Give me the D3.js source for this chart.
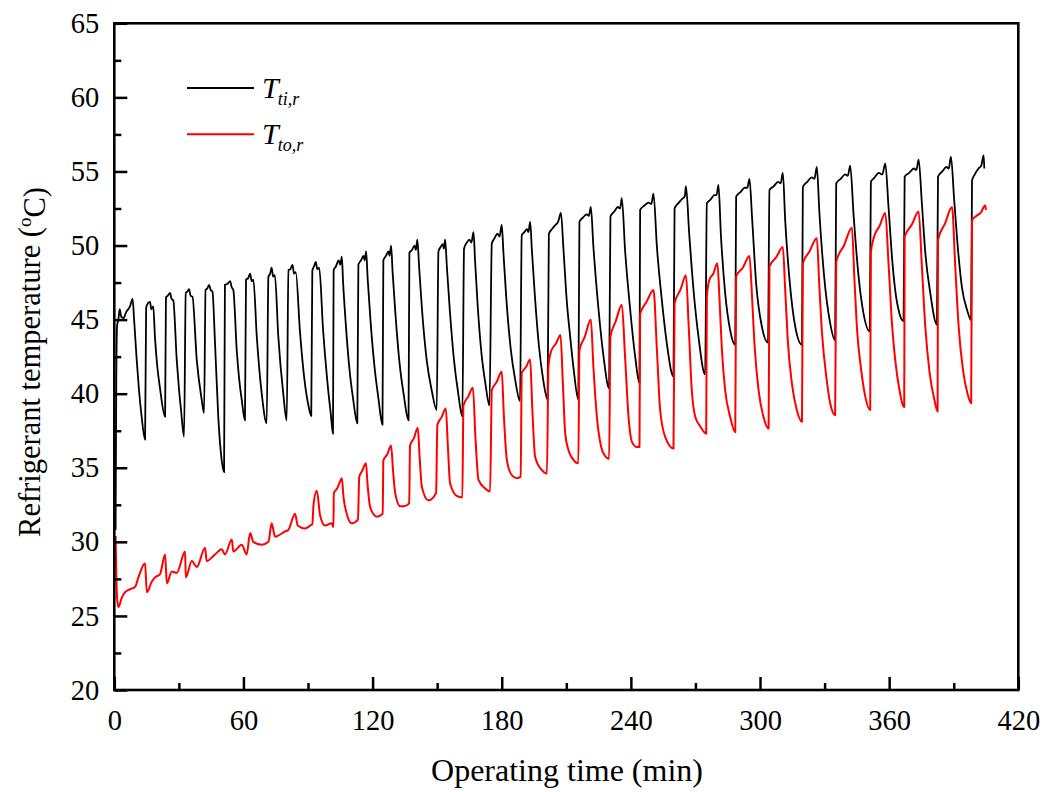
<!DOCTYPE html>
<html>
<head>
<meta charset="utf-8">
<script src="https://cdn.jsdelivr.net/npm/d3@7"></script>
<style>
  body { margin: 0; background: #fff; }
  svg { display: block; }
  text { font-family: "Liberation Serif", "Times New Roman", serif; fill: #000; }
</style>
</head>
<body>
<div id="chart"></div>
<script>
// tick values
var xTicks = [0, 60, 120, 180, 240, 300, 360, 420];
var xMinor = [30, 90, 150, 210, 270, 330, 390];
var yTicks = [20, 25, 30, 35, 40, 45, 50, 55, 60, 65];
var yMinor = [22.5, 27.5, 32.5, 37.5, 42.5, 47.5, 52.5, 57.5, 62.5];

// legend
var seriesNames = ["ti,r", "to,r"];
var seriesColors = ["#000000", "#ff0000"];

// T_ti,r  [time (min), temperature (C)]
var ttiR = [
  [0.6, 30.8], [0.9, 40.5], [1.3, 44.6], [1.9, 45.0], [2.5, 45.7], [3.2, 45.2], [4.3, 45.1], [5.5, 45.5], [7.3, 45.9], [8.5, 46.4],
  [9.2, 45.0], [10.4, 42.3], [11.5, 40.2], [12.7, 38.45], [14.3, 36.9],
  [14.8, 45.8], [15.6, 46.1], [16.6, 46.2], [17.2, 45.7], [18.1, 45.9], [18.9, 43.8], [20.0, 41.8], [21.2, 40.4], [23.6, 38.45],
  [24.0, 46.5], [24.8, 46.6], [25.9, 46.8], [26.6, 46.4], [27.4, 46.3], [29.0, 42.3], [30.0, 40.4], [31.0, 38.9], [32.4, 37.1],
  [33.2, 46.8], [34.0, 46.9], [34.7, 47.05], [35.5, 46.6], [36.3, 46.55], [38.3, 42.3], [40.6, 39.6], [41.7, 38.7],
  [42.4, 47.0], [43.2, 47.1], [44.0, 47.35], [44.8, 47.0], [45.6, 46.9], [46.8, 43.4], [48.3, 38.45], [49.9, 35.5], [51.0, 34.7],
  [51.4, 47.35], [52.5, 47.4], [53.8, 47.6], [54.5, 47.2], [55.3, 47.0], [56.9, 42.9], [58.0, 41.0], [59.2, 39.6], [60.7, 38.2],
  [61.2, 47.7], [62.2, 47.8], [63.1, 48.1], [63.8, 47.6], [64.6, 47.7], [66.2, 43.85], [68.5, 40.0], [70.8, 38.0],
  [71.6, 47.9], [72.4, 48.1], [73.1, 48.5], [73.8, 47.9], [74.6, 48.0], [76.2, 43.85], [78.5, 40.0], [80.1, 38.2],
  [80.9, 48.35], [81.8, 48.4], [82.8, 48.7], [83.5, 48.1], [84.3, 48.2], [86.3, 44.1], [88.3, 41.0], [90.2, 39.2], [91.5, 38.5],
  [92.0, 48.3], [92.8, 48.6], [93.6, 48.9], [94.3, 48.4], [95.2, 48.5], [97.0, 44.3], [99.0, 40.8], [100.6, 38.6], [101.6, 37.3],
  [101.9, 48.35], [103.0, 48.6], [104.2, 49.0], [105.0, 48.7], [105.7, 49.25], [106.3, 47.5], [107.5, 44.8], [109.3, 41.6], [111.0, 39.6], [112.9, 38.0],
  [113.4, 48.7], [114.6, 49.0], [115.8, 49.3], [116.3, 49.0], [117.0, 49.6], [117.7, 47.8], [119.0, 45.0], [120.9, 41.8], [122.7, 39.7], [124.6, 37.9],
  [125.0, 49.0], [126.2, 49.3], [127.4, 49.6], [127.9, 49.3], [128.6, 50.0], [129.3, 48.2], [130.6, 45.4], [132.5, 42.1], [134.5, 39.9], [136.7, 38.2],
  [137.1, 49.5], [138.3, 49.7], [139.5, 50.0], [140.1, 49.7], [140.8, 50.4], [141.6, 48.6], [143.0, 45.6], [145.2, 42.2], [147.5, 40.2], [149.8, 38.9],
  [150.6, 49.6], [151.6, 49.9], [152.6, 50.1], [153.1, 49.8], [153.7, 50.4], [154.5, 48.6], [155.9, 45.6], [157.8, 42.3], [159.8, 40.0], [161.7, 38.45],
  [162.5, 49.8], [163.8, 50.2], [165.0, 50.4], [165.9, 50.2], [166.9, 50.9], [167.6, 49.0], [168.8, 46.0], [170.6, 42.7], [172.4, 40.7], [174.3, 39.2],
  [175.4, 50.15], [176.7, 50.5], [178.0, 50.8], [179.0, 50.6], [180.0, 51.4], [180.8, 49.5], [182.1, 46.5], [184.2, 43.0], [186.3, 40.9], [188.5, 39.5],
  [189.3, 50.7], [190.5, 50.9], [191.7, 51.1], [192.4, 50.9], [193.2, 51.6], [194.0, 49.7], [195.4, 46.6], [197.3, 43.2], [199.2, 41.0], [201.3, 39.6],
  [201.9, 50.8], [203.3, 51.1], [205.0, 51.4], [206.2, 51.6], [207.5, 52.2], [208.7, 49.7], [210.2, 46.3], [211.8, 43.85], [213.3, 41.8], [215.6, 39.6],
  [216.1, 51.6], [217.8, 51.9], [219.5, 52.1], [220.5, 52.0], [221.4, 52.6], [222.6, 49.9], [225.0, 45.65], [227.3, 42.5], [229.9, 40.35],
  [230.5, 51.95], [232.3, 52.3], [234.0, 52.6], [235.0, 52.5], [235.8, 53.2], [237.3, 49.7], [239.7, 45.65], [242.0, 42.5], [244.0, 40.7],
  [244.3, 52.4], [246.3, 52.7], [248.3, 52.9], [249.5, 52.8], [250.5, 53.5], [252.1, 49.9], [254.4, 46.3], [256.7, 43.4], [259.8, 41.15],
  [260.3, 52.5], [262.3, 52.9], [264.2, 53.2], [265.0, 53.3], [265.6, 54.0], [267.1, 50.8], [269.1, 47.0], [271.4, 43.85], [274.5, 41.3],
  [275.3, 52.85], [277.0, 53.1], [278.8, 53.4], [279.8, 53.4], [280.7, 54.1], [281.8, 50.8], [283.8, 46.8], [286.1, 44.3], [288.5, 43.3],
  [288.9, 53.3], [290.9, 53.6], [292.9, 53.9], [294.1, 53.9], [295.1, 54.5], [296.3, 51.9], [298.2, 47.45], [300.9, 44.5], [303.7, 43.45],
  [304.4, 53.75], [306.4, 54.0], [308.4, 54.3], [309.6, 54.2], [310.6, 54.9], [311.7, 51.7], [313.7, 47.7], [316.4, 44.5], [319.5, 43.3],
  [319.9, 53.95], [322.0, 54.3], [324.0, 54.6], [325.3, 54.5], [326.4, 55.3], [327.6, 52.2], [329.8, 47.9], [332.6, 44.75], [334.9, 43.6],
  [335.4, 54.2], [337.5, 54.5], [339.6, 54.8], [340.8, 54.7], [341.9, 55.4], [343.5, 52.0], [345.8, 47.9], [348.1, 45.4], [351.0, 44.2],
  [351.5, 54.3], [353.0, 54.55], [355.2, 54.9], [356.8, 54.8], [358.2, 55.55], [359.7, 52.6], [361.3, 49.25], [362.8, 47.0], [364.8, 45.4], [366.7, 44.9],
  [367.2, 54.65], [369.3, 54.9], [371.5, 55.2], [372.6, 55.1], [373.7, 55.8], [375.2, 52.85], [376.8, 49.5], [379.1, 46.8], [382.2, 44.65],
  [382.7, 54.65], [384.7, 55.0], [386.6, 55.3], [387.7, 55.2], [388.7, 56.0], [390.2, 53.1], [392.0, 49.7], [393.8, 47.2], [396.2, 45.65], [398.1, 44.95],
  [398.5, 54.4], [399.6, 54.75], [401.5, 55.2], [402.8, 55.4], [403.9, 56.1], [404.2, 55.2]
];

// T_to,r  [time (min), temperature (C)]
var ttoR = [
  [0.6, 30.4], [0.9, 28.0], [1.3, 26.2], [1.9, 25.6], [3.4, 26.2], [5.0, 26.6], [7.3, 26.8], [9.6, 26.95], [11.2, 27.6], [14.3, 28.55],
  [15.1, 26.6], [17.4, 27.3], [18.9, 27.6], [21.2, 27.8], [23.6, 29.15], [24.4, 27.2], [26.7, 28.0], [29.0, 27.9], [32.9, 29.35],
  [33.2, 27.6], [36.0, 28.7], [38.3, 28.3], [42.2, 29.6], [42.9, 28.7], [46.8, 29.15], [49.9, 29.5], [51.4, 29.15], [54.6, 30.15],
  [55.3, 29.35], [59.2, 29.8], [61.5, 29.15], [63.1, 30.6], [64.6, 30.0], [68.5, 29.8], [71.6, 30.0], [73.1, 31.25], [74.7, 30.35],
  [79.3, 30.7], [80.8, 30.8], [84.0, 31.9], [85.2, 31.1], [88.6, 30.9], [91.0, 31.1], [92.0, 31.2], [92.6, 32.6], [94.1, 33.45],
  [95.6, 31.8], [97.9, 31.1], [101.0, 31.25],
  [101.8, 31.0], [102.0, 33.3], [103.5, 33.6], [104.7, 34.0], [105.7, 34.3], [106.5, 33.0], [108.0, 31.9], [110.3, 31.25], [113.2, 31.5],
  [113.8, 34.4], [115.2, 34.8], [116.9, 35.3], [117.7, 33.8], [118.8, 32.4], [120.3, 31.9], [121.9, 31.7], [124.7, 31.9],
  [125.0, 35.5], [126.8, 35.9], [128.6, 36.5], [129.5, 34.8], [130.5, 33.3], [132.8, 32.4], [134.5, 32.4], [137.0, 32.6],
  [137.4, 36.5], [139.2, 37.0], [141.0, 37.7], [141.9, 35.6], [142.9, 33.7], [145.9, 32.8], [149.5, 33.3],
  [150.1, 37.9], [152.0, 38.4], [154.0, 39.0], [155.0, 36.4], [156.0, 33.95], [159.1, 33.1], [161.7, 33.0],
  [162.2, 39.2], [164.4, 39.8], [166.6, 40.4], [167.8, 37.0], [169.2, 34.2], [172.3, 33.6], [174.6, 33.4],
  [175.4, 40.25], [177.7, 40.8], [180.0, 41.5], [181.0, 38.5], [182.4, 35.5], [184.7, 34.5], [187.0, 34.3], [188.8, 34.4],
  [189.3, 41.4], [191.3, 41.8], [193.2, 42.3], [194.2, 39.0], [195.5, 35.75], [198.6, 34.85], [201.0, 34.6],
  [201.7, 41.8], [203.0, 42.9], [205.3, 43.4], [207.3, 43.96], [208.4, 40.7], [209.5, 37.3], [211.0, 36.2], [213.0, 35.6], [215.6, 35.3],
  [216.1, 42.95], [218.5, 43.8], [221.4, 45.0], [222.6, 41.8], [224.2, 38.45], [226.2, 36.4], [228.0, 35.8], [229.9, 35.6],
  [230.5, 43.85], [233.0, 44.9], [235.8, 46.0], [237.3, 42.5], [238.9, 38.45], [240.5, 36.75], [242.8, 36.4], [244.0, 36.4],
  [244.3, 45.4], [247.3, 46.2], [250.5, 47.0], [252.1, 42.95], [253.6, 38.9], [255.9, 37.1], [259.8, 36.3],
  [260.3, 46.1], [263.0, 47.0], [265.6, 48.0], [266.8, 44.75], [268.3, 40.25], [269.9, 38.45], [272.2, 37.8], [275.0, 37.3],
  [275.3, 46.55], [276.5, 47.7], [278.3, 48.1], [280.2, 48.8], [281.2, 46.3], [282.3, 42.95], [283.8, 40.25], [286.1, 38.45], [288.5, 37.4],
  [288.9, 47.9], [292.0, 48.5], [295.1, 49.3], [296.2, 46.8], [297.4, 43.4], [299.3, 40.25], [301.6, 38.45], [304.0, 37.65],
  [304.4, 48.6], [307.5, 49.2], [310.6, 49.9], [311.7, 47.0], [312.9, 43.6], [314.8, 40.7], [317.1, 38.9], [319.5, 38.1],
  [319.9, 48.8], [323.0, 49.6], [326.4, 50.5], [327.5, 47.45], [328.8, 44.1], [330.8, 41.15], [332.6, 39.35], [334.9, 38.55],
  [335.4, 48.9], [339.0, 50.0], [342.7, 51.2], [343.8, 47.9], [345.0, 44.5], [347.0, 41.6], [348.9, 39.8], [351.2, 38.9],
  [351.5, 49.5], [353.0, 50.6], [355.5, 51.3], [358.2, 52.2], [359.7, 48.8], [361.3, 44.75], [362.8, 42.3], [364.8, 40.25], [367.0, 39.1],
  [367.2, 50.6], [370.5, 51.4], [373.7, 52.3], [375.2, 48.6], [376.8, 44.5], [378.8, 41.4], [381.0, 39.6], [382.5, 38.8],
  [382.7, 50.4], [386.0, 51.5], [389.2, 52.6], [390.7, 48.6], [392.3, 44.5], [394.3, 41.6], [396.4, 40.0], [398.1, 39.35],
  [398.5, 51.7], [400.5, 52.0], [402.5, 52.2], [404.6, 52.7], [405.0, 52.4]
];

var w = 1052, h = 792;
var plotLeft = 114.3, plotRight = 1018.3, plotTop = 23.3, plotBottom = 690;

var svg = d3.select("#chart").append("svg")
    .attr("width", w)
    .attr("height", h);

var x = d3.scaleLinear().domain([0, 420]).range([plotLeft, plotRight]);
var y = d3.scaleLinear().domain([20, 65]).range([plotBottom, plotTop]);

// data lines
var line = d3.line()
    .curve(d3.curveMonotoneX)
    .x(function (d) { return x(d[0]); })
    .y(function (d) { return y(d[1]); });

svg.append("path")
    .datum(ttiR)
    .attr("fill", "none")
    .attr("stroke", seriesColors[0])
    .attr("stroke-width", 1.8)
    .attr("stroke-linejoin", "round")
    .attr("d", line);

svg.append("path")
    .datum(ttoR)
    .attr("fill", "none")
    .attr("stroke", seriesColors[1])
    .attr("stroke-width", 2)
    .attr("stroke-linejoin", "round")
    .attr("d", line);

// axes (ticks pointing inward)
svg.append("g")
    .attr("transform", "translate(0," + plotBottom + ")")
    .call(d3.axisBottom(x).tickValues(xTicks).tickSizeInner(-13).tickSizeOuter(0).tickPadding(20));
svg.append("g")
    .attr("transform", "translate(0," + plotBottom + ")")
    .call(d3.axisBottom(x).tickValues(xMinor).tickSizeInner(-7).tickSizeOuter(0).tickFormat(""));
svg.append("g")
    .attr("transform", "translate(" + plotLeft + ",0)")
    .call(d3.axisLeft(y).tickValues(yTicks).tickSizeInner(-13).tickSizeOuter(0).tickPadding(15));
svg.append("g")
    .attr("transform", "translate(" + plotLeft + ",0)")
    .call(d3.axisLeft(y).tickValues(yMinor).tickSizeInner(-7).tickSizeOuter(0).tickFormat(""));

svg.selectAll(".domain").remove();
svg.selectAll(".tick line").attr("stroke", "#000").attr("stroke-width", 2.5);
svg.selectAll(".tick text")
    .attr("font-size", "28.5px")
    .attr("font-family", "'Liberation Serif', 'Times New Roman', serif")
    .attr("fill", "#000");

// frame
svg.append("rect")
    .attr("x", plotLeft)
    .attr("y", plotTop)
    .attr("width", plotRight - plotLeft)
    .attr("height", plotBottom - plotTop)
    .attr("fill", "none")
    .attr("stroke", "#000")
    .attr("stroke-width", 2.6);

// axis titles
svg.append("text")
    .attr("x", 567)
    .attr("y", 781)
    .attr("text-anchor", "middle")
    .attr("font-size", "32px")
    .text("Operating time (min)");

var yTitle = svg.append("text")
    .attr("transform", "translate(40,362) rotate(-90)")
    .attr("text-anchor", "middle")
    .attr("font-size", "30.5px");
yTitle.append("tspan").text("Refrigerant temperature (");
yTitle.append("tspan").attr("dy", "-0.45em").attr("font-size", "19px").text("o");
yTitle.append("tspan").attr("dy", "0.45em").text("C)");

// legend
var legend = svg.selectAll(".legend")
    .data(seriesNames)
    .enter()
    .append("g")
    .attr("class", "legend")
    .attr("transform", function (d, i) { return "translate(187," + (88 + i * 46.3) + ")"; });

legend.append("line")
    .attr("x1", 0)
    .attr("x2", 67)
    .attr("y1", 0)
    .attr("y2", 0)
    .attr("stroke", function (d, i) { return seriesColors[i]; })
    .attr("stroke-width", 2);

var legendText = legend.append("text")
    .attr("x", 75)
    .attr("y", 10)
    .attr("font-size", "30px")
    .attr("font-style", "italic");
legendText.append("tspan").text("T");
legendText.append("tspan")
    .attr("dy", "0.4em")
    .attr("dx", "-1")
    .attr("font-size", "18px")
    .text(function (d) { return d; });
</script>
</body>
</html>
